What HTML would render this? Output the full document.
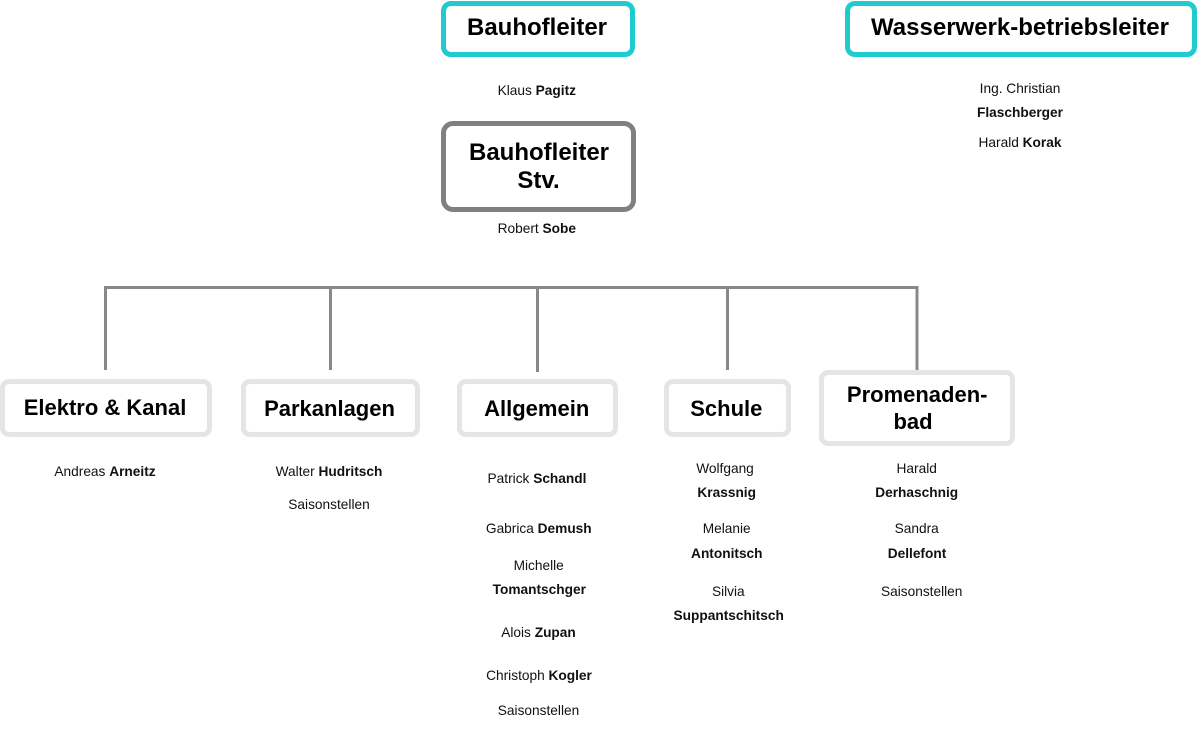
<!DOCTYPE html>
<html>
<head>
<meta charset="utf-8">
<style>
  html, body { margin:0; padding:0; background:#fff; }
  body { width:1198px; height:738px; position:relative; overflow:hidden;
         font-family:"Liberation Sans", Arial, sans-serif; color:#000; }
  .box { position:absolute; box-sizing:border-box; background:#fff; }
  .teal { border:5px solid #1ECBCF; border-radius:10px; }
  .dark { border:5px solid #808080; border-radius:12px; }
  .light { border:5px solid #E5E5E5; border-radius:9px; }
  .t { position:absolute; white-space:nowrap; transform:translateX(-50%);
       height:20px; line-height:20px; font-size:13.7px; color:#111; margin-top:1px; }
  .t b { font-weight:bold; }
  .h1 { position:absolute; white-space:nowrap; transform:translateX(-50%);
        height:28px; line-height:28px; font-size:24px; font-weight:bold; margin-top:1px; }
  .h2 { position:absolute; white-space:nowrap; transform:translateX(-50%);
        height:26px; line-height:26px; font-size:22px; font-weight:bold; }
  svg { position:absolute; left:0; top:0; }
</style>
</head>
<body>
<svg width="1198" height="738">
  <g stroke="#888888" stroke-width="3" fill="none">
    <line x1="104" y1="287.5" x2="918.5" y2="287.5"/>
    <line x1="105.5" y1="286" x2="105.5" y2="370"/>
    <line x1="330.5" y1="286" x2="330.5" y2="370"/>
    <line x1="537.5" y1="286" x2="537.5" y2="372"/>
    <line x1="727.5" y1="286" x2="727.5" y2="370"/>
    <line x1="917" y1="286" x2="917" y2="370"/>
  </g>
</svg>

<div class="box teal" style="left:441px;top:1px;width:194px;height:56px;"></div>
<div class="box teal" style="left:845px;top:1px;width:352px;height:56px;"></div>
<div class="box dark" style="left:441px;top:121px;width:195px;height:91px;"></div>
<div class="box light" style="left:0px;top:379px;width:212px;height:58px;"></div>
<div class="box light" style="left:241px;top:379px;width:179px;height:58px;"></div>
<div class="box light" style="left:457px;top:379px;width:161px;height:58px;"></div>
<div class="box light" style="left:664px;top:379px;width:127px;height:58px;"></div>
<div class="box light" style="left:819px;top:370px;width:196px;height:76px;"></div>

<div class="h1" style="left:537px;top:13px;">Bauhofleiter</div>
<div class="h1" style="left:1020px;top:13px;">Wasserwerk-betriebsleiter</div>
<div class="h1" style="left:539px;top:137.7px;">Bauhofleiter</div>
<div class="h1" style="left:538.5px;top:166px;">Stv.</div>

<div class="h2" style="left:105px;top:395.3px;">Elektro &amp; Kanal</div>
<div class="h2" style="left:329.5px;top:395.5px;">Parkanlagen</div>
<div class="h2" style="left:536.7px;top:395.5px;">Allgemein</div>
<div class="h2" style="left:726.3px;top:395.5px;">Schule</div>
<div class="h2" style="left:917.2px;top:382px;">Promenaden-</div>
<div class="h2" style="left:913px;top:408.5px;">bad</div>

<div class="t" style="left:536.8px;top:80px;">Klaus <b>Pagitz</b></div>
<div class="t" style="left:536.8px;top:217.7px;">Robert <b>Sobe</b></div>

<div class="t" style="left:1020px;top:78.3px;">Ing. Christian</div>
<div class="t" style="left:1020px;top:102.3px;"><b>Flaschberger</b></div>
<div class="t" style="left:1020px;top:132px;">Harald <b>Korak</b></div>

<div class="t" style="left:105px;top:461px;">Andreas <b>Arneitz</b></div>

<div class="t" style="left:329px;top:461px;">Walter <b>Hudritsch</b></div>
<div class="t" style="left:329px;top:494px;">Saisonstellen</div>

<div class="t" style="left:537px;top:468px;">Patrick <b>Schandl</b></div>
<div class="t" style="left:538.8px;top:518px;">Gabrica <b>Demush</b></div>
<div class="t" style="left:538.7px;top:555px;">Michelle</div>
<div class="t" style="left:539.3px;top:578.7px;"><b>Tomantschger</b></div>
<div class="t" style="left:538.5px;top:622px;">Alois <b>Zupan</b></div>
<div class="t" style="left:539px;top:665px;">Christoph <b>Kogler</b></div>
<div class="t" style="left:538.5px;top:700px;">Saisonstellen</div>

<div class="t" style="left:725px;top:458px;">Wolfgang</div>
<div class="t" style="left:726.7px;top:482px;"><b>Krassnig</b></div>
<div class="t" style="left:726.7px;top:518px;">Melanie</div>
<div class="t" style="left:726.8px;top:543px;"><b>Antonitsch</b></div>
<div class="t" style="left:728.3px;top:581px;">Silvia</div>
<div class="t" style="left:728.7px;top:605px;"><b>Suppantschitsch</b></div>

<div class="t" style="left:916.7px;top:458px;">Harald</div>
<div class="t" style="left:916.7px;top:482px;"><b>Derhaschnig</b></div>
<div class="t" style="left:916.7px;top:518px;">Sandra</div>
<div class="t" style="left:917px;top:543px;"><b>Dellefont</b></div>
<div class="t" style="left:921.7px;top:581px;">Saisonstellen</div>
</body>
</html>
